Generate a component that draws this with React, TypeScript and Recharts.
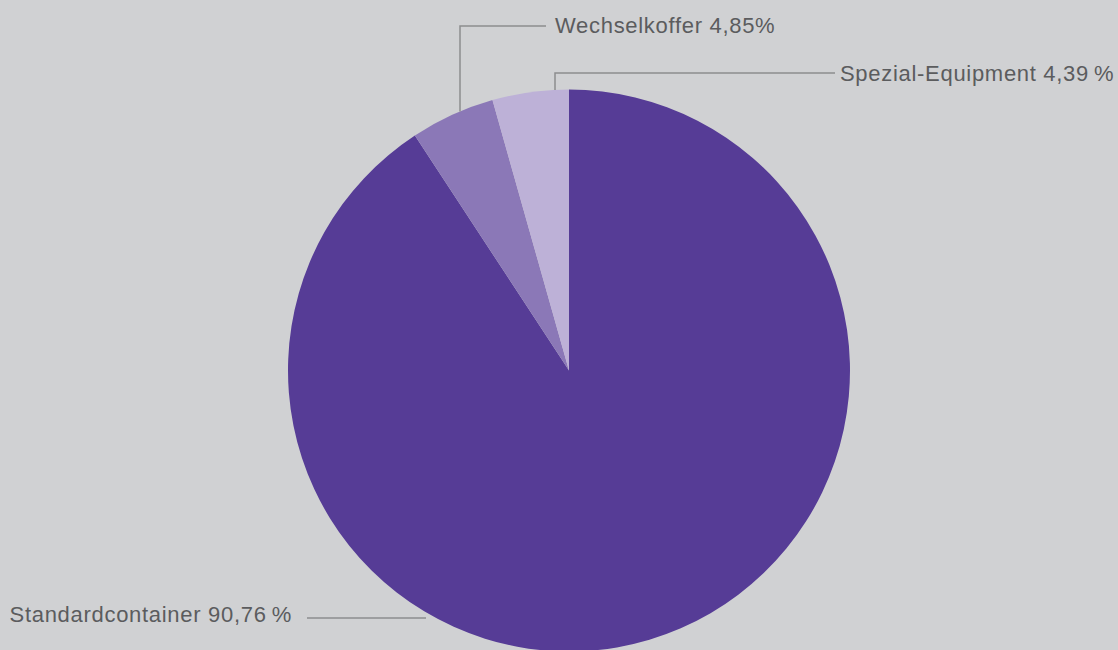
import React from "react";
import { PieChart, Pie, Cell } from "recharts";

const categories = ["Standardcontainer", "Wechselkoffer", "Spezial-Equipment"];
const shares = [90.76, 4.85, 4.39];
const shareLabels = ["90,76\u2009%", "4,85%", "4,39\u2009%"];
const colors = ["#563c96", "#8b78b7", "#bdb1d7"];

const data = categories.map((name, i) => ({ name, value: shares[i], label: shareLabels[i] }));

// label leader-line layout, relative to the pie centre
const labelLayout = [
  { type: "h", dy: 247.5, x1: -143, x2: -262, tx: -277, ty: 251, anchor: "end" },
  { type: "v", dx: -109, y1: -259, y2: -344.5, x2: -23, tx: -14, ty: -338, anchor: "start" },
  { type: "v", dx: -14, y1: -280.5, y2: -297.5, x2: 266, tx: 271, ty: -290, anchor: "start" },
];

const LINE = "#8c8d8f";
const TEXT = "#5b5c5e";

const renderLabel = (props: any) => {
  const { cx, cy, index, payload } = props;
  const l: any = labelLayout[index];
  const text = `${payload.name} ${payload.label}`;
  let path = "";
  if (l.type === "h") {
    path = `M${cx + l.x1},${cy + l.dy} L${cx + l.x2},${cy + l.dy}`;
  } else {
    path = `M${cx + l.dx},${cy + l.y1} L${cx + l.dx},${cy + l.y2} L${cx + l.x2},${cy + l.y2}`;
  }
  return (
    <g key={`lbl-${index}`}>
      <path d={path} stroke={LINE} strokeWidth={1.5} fill="none" />
      <text
        x={cx + l.tx}
        y={cy + l.ty}
        textAnchor={l.anchor}
        fill={TEXT}
        fontSize={22}
        fontFamily="'Liberation Sans', Arial, sans-serif"
        style={{ letterSpacing: "0.7px" }}
      >
        {text}
      </text>
    </g>
  );
};

export default function App() {
  return (
    <div style={{ position: "absolute", left: 0, top: 0, width: 1118, height: 650, background: "#d0d1d3", overflow: "hidden" }}>
      <PieChart width={1118} height={650} margin={{ top: 0, right: 0, bottom: 0, left: 0 }}>
        <Pie
          data={data}
          dataKey="value"
          nameKey="name"
          cx={569}
          cy={370.5}
          outerRadius={281}
          startAngle={90}
          endAngle={-270}
          stroke="none"
          isAnimationActive={false}
          label={renderLabel}
          labelLine={false}
        >
          {data.map((d, i) => (
            <Cell key={d.name} fill={colors[i]} />
          ))}
        </Pie>
      </PieChart>
    </div>
  );
}
